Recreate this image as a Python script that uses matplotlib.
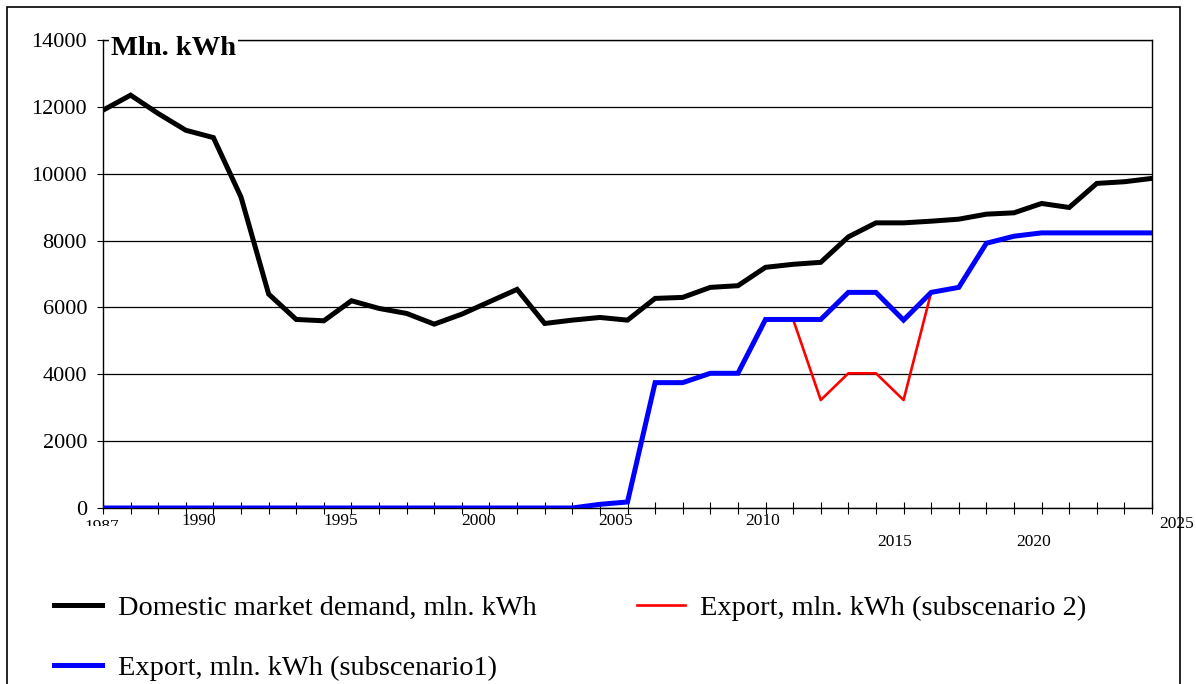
import matplotlib
matplotlib.use("Agg")
import matplotlib.pyplot as plt
from matplotlib.patches import Rectangle
from matplotlib.transforms import blended_transform_factory, Bbox, TransformedBbox

# ---------------- data ----------------
years = list(range(1987, 2026))
demand = [11900, 12350, 11800, 11300, 11080, 9300, 6400, 5640, 5600, 6200,
          5970, 5820, 5500, 5800, 6170, 6540, 5520, 5620, 5700, 5620,
          6270, 6300, 6600, 6650, 7200, 7290, 7350, 8110, 8530, 8530,
          8580, 8640, 8790, 8830, 9110, 8990, 9710, 9760, 9860]
export1 = [0, 0, 0, 0, 0, 0, 0, 0, 0, 0,
           0, 0, 0, 0, 0, 0, 0, 0, 110, 180,
           3750, 3750, 4030, 4030, 5640, 5640, 5640, 6450, 6450, 5620,
           6450, 6600, 7920, 8130, 8230, 8230, 8230, 8230, 8230]
export2_years = [2012, 2013, 2014, 2015, 2016, 2017]
export2 = [5640, 3230, 4030, 4030, 3230, 6450]
y_ticks = [0, 2000, 4000, 6000, 8000, 10000, 12000, 14000]
x_labels = ["1987", "1990", "1995", "2000", "2005", "2010", "2015", "2020", "2025"]
series_names = ["Domestic market demand, mln. kWh",
                "Export, mln. kWh (subscenario1)",
                "Export, mln. kWh (subscenario 2)"]
unit_title = "Mln. kWh"

# ---------------- layout helpers ----------------
W, H = 1196, 684
def fx(px):
    return px / W
def fy(py):
    return 1 - py / H

SERIF = ["Liberation Serif", "DejaVu Serif"]

fig = plt.figure(figsize=(W / 100, H / 100), dpi=100)
fig.patch.set_facecolor("white")
ax = fig.add_axes([fx(103), fy(508), fx(1152) - fx(103), (508 - 40) / H])

l1, = ax.plot(years, demand, color="black", lw=3.6, solid_joinstyle="miter", zorder=3)
l3, = ax.plot(export2_years, export2, color="red", lw=1.9, zorder=2.5)
l2, = ax.plot(years, export1, color="blue", lw=3.6, solid_joinstyle="miter", zorder=3)

ax.set_xlim(1987, 2025)
ax.set_ylim(0, 14000)
ax.set_yticks(y_ticks)
ax.set_yticklabels([str(v) for v in y_ticks], fontfamily=SERIF, fontsize=16)
ax.tick_params(axis="y", direction="out", length=4.5, width=0.8, pad=7, colors="black")
ax.set_xticks(years)
ax.tick_params(axis="x", direction="inout", length=8, width=0.8, labelbottom=False)
ax.grid(axis="y", color="black", lw=0.9)
ax.set_axisbelow(True)
for s in ax.spines.values():
    s.set_color("black")
    s.set_linewidth(1.0)

# x labels (placed irregularly like the reference)
label_pos = [1986.95, 1990.48, 1995.6, 2000.6, 2005.58, 2010.88, 2015.68, 2020.72, 2025.88]
label_py = [519, 521, 521, 521, 521, 521, 541.5, 541.5, 524]
tr = blended_transform_factory(ax.transData, fig.transFigure)
for txt, xp, py in zip(x_labels, label_pos, label_py):
    if txt == "1987":
        t = ax.text(xp, fy(py), txt, transform=tr, ha="center", va="top",
                    fontsize=12.5, fontfamily=SERIF)
        t.set_clip_box(TransformedBbox(Bbox([[0, fy(526)], [1, 1]]), fig.transFigure))
        t.set_clip_on(True)
    else:
        ax.text(xp, fy(py), txt, transform=tr, ha="center", va="center",
                fontsize=12.5, fontfamily=SERIF, clip_on=False)

# unit title
fig.text(fx(111), fy(55), unit_title, fontsize=20.5, fontweight="bold",
         fontfamily=SERIF, va="baseline", ha="left",
         bbox=dict(fc="white", ec="none", pad=1.5), zorder=5)

# legend
fig.legend(handles=[l1, l2, l3], labels=series_names, ncol=2, loc="upper left",
           bbox_to_anchor=(fx(54), fy(595)), frameon=False,
           prop={"family": SERIF, "size": 20.4}, handlelength=1.7,
           handletextpad=0.55, columnspacing=3.53, labelspacing=1.22,
           borderpad=0, borderaxespad=0)

# outer frame
fig.add_artist(Rectangle((fx(7), -0.05), fx(1180) - fx(7), fy(7) + 0.05,
                         transform=fig.transFigure, fill=False, ec="black",
                         lw=1.2, zorder=10))

fig.savefig("out.png", dpi=100)
